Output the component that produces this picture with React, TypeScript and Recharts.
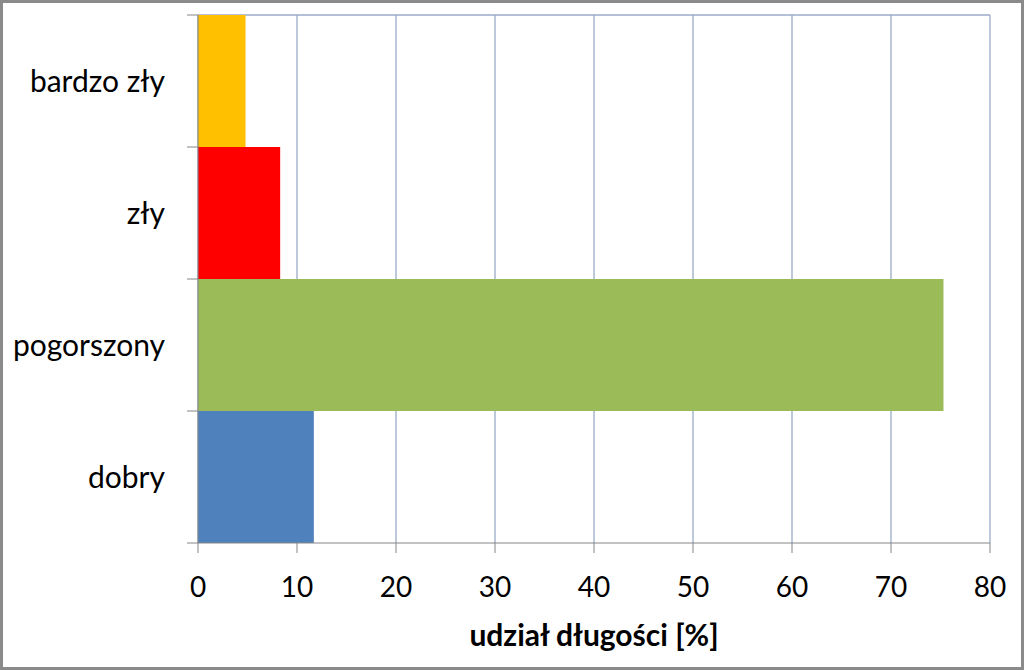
import { BarChart, Bar, Cell, XAxis, YAxis, CartesianGrid } from 'recharts'

const categories = ['bardzo zły', 'zły', 'pogorszony', 'dobry']
const values = [4.8, 8.3, 75.3, 11.7]
const colors = ['#FFC000', '#FF0000', '#9BBB59', '#4F81BD']
const xTicks = [0, 10, 20, 30, 40, 50, 60, 70, 80]

const W = 1024
const H = 670
const LEFT = 198
const TOP = 15
const RIGHT = 34
const XAXIS_H = 127
const FONT = 'Lato, "Open Sans", sans-serif'
const AXIS = '#868686'
const GRID = '#9aabc8'

const data = categories.map((c, i) => ({ name: c, value: values[i] }))

const band = (H - TOP - XAXIS_H) / categories.length

function CategoryTick(props: any) {
  const { y, payload, index } = props
  return (
    <g>
      <line x1={LEFT - 11} x2={LEFT} y1={y - band / 2} y2={y - band / 2} stroke={AXIS} />
      {index === categories.length - 1 && (
        <line x1={LEFT - 11} x2={LEFT} y1={y + band / 2} y2={y + band / 2} stroke={AXIS} />
      )}
      <text x={LEFT - 33} y={y} dy="0.35em" textAnchor="end" fill="#000" fontSize={30} fontFamily={FONT}>
        {payload.value}
      </text>
    </g>
  )
}

export default function App() {
  return (
    <div style={{ position: 'absolute', left: 0, top: 0, width: W, height: H, background: '#fff' }}>
      <BarChart
        width={W}
        height={H}
        data={data}
        layout="vertical"
        barCategoryGap={0}
        margin={{ top: TOP, right: RIGHT, left: 0, bottom: 0 }}
      >
        <CartesianGrid
          stroke={GRID}
          strokeWidth={1.3}
          horizontalCoordinatesGenerator={({ offset }: any) => [offset.top]}
        />
        <XAxis
          type="number"
          domain={[0, 80]}
          ticks={xTicks}
          interval={0}
          height={XAXIS_H}
          stroke={AXIS}
          tickSize={10}
          tickMargin={24}
          tick={{ fill: '#000', fontSize: 28, fontFamily: FONT }}
          label={{
            value: 'udział długości [%]',
            position: 'insideBottom',
            offset: 24,
            fill: '#000',
            fontSize: 30,
            fontWeight: 'bold',
            fontFamily: FONT,
          }}
        />
        <YAxis
          type="category"
          dataKey="name"
          width={LEFT}
          stroke={AXIS}
          tickLine={false}
          tick={<CategoryTick />}
        />
        <Bar dataKey="value" isAnimationActive={false}>
          {data.map((_, i) => (
            <Cell key={i} fill={colors[i]} />
          ))}
        </Bar>
      </BarChart>
      <div
        style={{
          position: 'absolute',
          inset: 0,
          border: '3px solid #8a8a8a',
          pointerEvents: 'none',
        }}
      />
    </div>
  )
}
